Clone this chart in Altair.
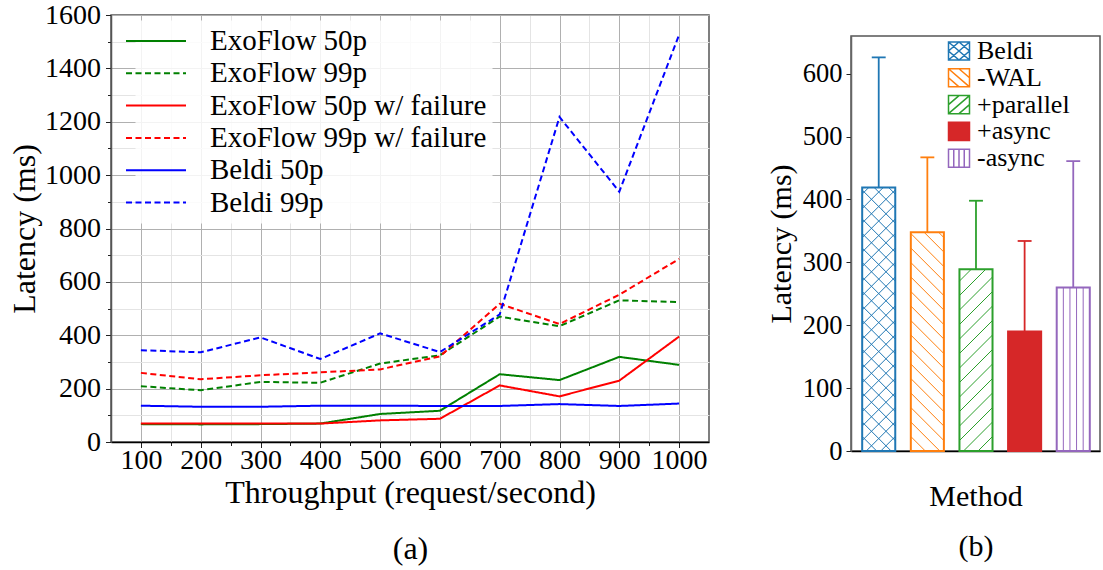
import altair as alt
import pandas as pd

# ---------------- (a) latency vs. throughput ----------------
throughput = [100, 200, 300, 400, 500, 600, 700, 800, 900, 1000]
exoflow_50p = [67, 66, 67, 69, 105, 117, 254, 232, 319, 289]
exoflow_99p = [209, 194, 225, 222, 294, 325, 470, 434, 531, 524]
exoflow_50p_fail = [69, 69, 69, 69, 81, 87, 212, 171, 230, 395]
exoflow_99p_fail = [259, 235, 250, 261, 272, 321, 518, 442, 552, 686]
beldi_50p = [136, 132, 132, 136, 136, 135, 135, 142, 135, 144]
beldi_99p = [344, 336, 392, 311, 407, 337, 478, 1218, 938, 1526]

series_names = ["ExoFlow 50p", "ExoFlow 99p", "ExoFlow 50p w/ failure",
                "ExoFlow 99p w/ failure", "Beldi 50p", "Beldi 99p"]
series_values = [exoflow_50p, exoflow_99p, exoflow_50p_fail,
                 exoflow_99p_fail, beldi_50p, beldi_99p]
series_colors = ["#008000", "#008000", "#ff0000", "#ff0000", "#0000ff", "#0000ff"]
series_dashes = [[1, 0], [6, 3.5], [1, 0], [6, 3.5], [1, 0], [6, 3.5]]

minor_x = [150, 250, 350, 450, 550, 650, 750, 850, 950]
minor_y = [100, 300, 500, 700, 900, 1100, 1300, 1500]
major_y = [0, 200, 400, 600, 800, 1000, 1200, 1400, 1600]

# ---------------- (b) ablation ----------------
methods = ["Beldi", "-WAL", "+parallel", "+async", "-async"]
method_latency = [419, 348, 289, 190, 260]
method_upper = [626, 467, 398, 334, 461]
method_colors = ["#1f77b4", "#ff7f0e", "#2ca02c", "#d62728", "#9467bd"]
method_fills = ["#ffffff", "#ffffff", "#ffffff", "#d62728", "#ffffff"]
method_hatch = ["x", "\\", "/", "", "|"]

FONT = "Times New Roman"

rows = []
for name, vals in zip(series_names, series_values):
    for t, v in zip(throughput, vals):
        rows.append({"throughput": t, "latency": v, "series": name})
lines_df = pd.DataFrame(rows)

x_scale = alt.Scale(domain=[50, 1050], nice=False, zero=False)
y_scale = alt.Scale(domain=[0, 1600], nice=False)

minor_layer = alt.Chart(lines_df).mark_line(opacity=0).encode(
    x=alt.X("throughput:Q", scale=x_scale,
            axis=alt.Axis(orient="bottom", values=minor_x, labels=False, title=None,
                          domain=False, tickSize=3.5, tickColor="#222", tickWidth=1,
                          grid=True, gridColor="#e4e4e4", gridWidth=1)),
    y=alt.Y("latency:Q", scale=y_scale,
            axis=alt.Axis(orient="left", values=minor_y, labels=False, title=None,
                          domain=False, tickSize=3.5, tickColor="#222", tickWidth=1,
                          grid=True, gridColor="#e4e4e4", gridWidth=1)),
    detail="series:N",
)

# legend sample line: 60 px long drawn on a 30 px symbol cell
line_legend = alt.Legend(
    title=None, orient="none", legendX=24, legendY=5, padding=5,
    symbolType="M-2,0H2", symbolSize=900, symbolStrokeWidth=2,
    symbolFillColor="transparent",
    labelFont=FONT, labelFontSize=29, labelOffset=38, rowPadding=1.3,
    fillColor="rgba(255,255,255,0.85)", strokeColor="transparent",
    labelLimit=400,
)

line_layer = alt.Chart(lines_df).mark_line(strokeWidth=2).encode(
    x=alt.X("throughput:Q", scale=x_scale,
            axis=alt.Axis(orient="bottom", values=throughput, format="d",
                          labelOverlap=False,
                          title=["Throughput (request/second)", "(a)"],
                          titleFont=FONT, titleFontSize=32, titleFontWeight="normal",
                          titleLineHeight=56.5, titlePadding=2.5,
                          labelFont=FONT, labelFontSize=28, labelPadding=-1,
                          labelColor="#000", domainColor="#000", domainWidth=1.5,
                          tickSize=5.5, tickColor="#222", tickWidth=1,
                          grid=True, gridColor="#b0b0b0", gridWidth=1)),
    y=alt.Y("latency:Q", scale=y_scale,
            axis=alt.Axis(orient="left", values=major_y, format="d",
                          title="Latency (ms)",
                          titleFont=FONT, titleFontSize=32, titleFontWeight="normal",
                          titlePadding=3, labelFont=FONT, labelFontSize=28,
                          labelPadding=5, labelColor="#000",
                          domainColor="#555", domainWidth=1.5,
                          tickSize=5.5, tickColor="#222", tickWidth=1,
                          grid=True, gridColor="#b0b0b0", gridWidth=1)),
    color=alt.Color("series:N", scale=alt.Scale(domain=series_names, range=series_colors),
                    legend=line_legend),
    strokeDash=alt.StrokeDash("series:N",
                              scale=alt.Scale(domain=series_names, range=series_dashes),
                              legend=line_legend),
)

left = alt.layer(minor_layer, line_layer).resolve_axis(
    x="independent", y="independent"
).properties(width=598, height=427)

# ---- bars with hatching ----
X_DOMAIN = [-0.57, 4.55]
Y_DOMAIN = [0, 660]
R_WIDTH, R_HEIGHT = 249, 415
px_x = R_WIDTH / (X_DOMAIN[1] - X_DOMAIN[0])
px_y = R_HEIGHT / (Y_DOMAIN[1] - Y_DOMAIN[0])
HALF = 0.34
CAP = 0.143
HATCH_STEP = 14.5

bar_df = pd.DataFrame({
    "method": methods,
    "pos": list(range(len(methods))),
    "latency": method_latency,
    "upper": method_upper,
})
bar_df["left"] = bar_df["pos"] - HALF
bar_df["right"] = bar_df["pos"] + HALF
bar_df["cap_left"] = bar_df["pos"] - CAP
bar_df["cap_right"] = bar_df["pos"] + CAP
bar_df["base"] = 0


def hatch_segments(left, value, kind):
    """Hatch lines clipped to one bar, built in pixel space, returned in data units."""
    W = 2 * HALF * px_x
    H = value * px_y
    segs = []
    if "/" in kind or "x" in kind:
        c = -W
        while c < H:
            x0, x1 = max(0.0, -c), min(W, H - c)
            if x1 - x0 > 0.5:
                segs.append((x0, x0 + c, x1, x1 + c))
            c += HATCH_STEP
    if "\\" in kind or "x" in kind:
        c = 0.0
        while c < H + W:
            x0, x1 = max(0.0, c - H), min(W, c)
            if x1 - x0 > 0.5:
                segs.append((x0, c - x0, x1, c - x1))
            c += HATCH_STEP
    if "|" in kind:
        for k in range(1, 5):
            segs.append((W * k / 5, 0.0, W * k / 5, H))
    return [(left + a / px_x, b / px_y, left + c2 / px_x, d / px_y)
            for a, b, c2, d in segs]


hatch_rows = []
for m, p, v, h in zip(methods, range(len(methods)), method_latency, method_hatch):
    for x0, y0, x1, y1 in hatch_segments(p - HALF, v, h):
        hatch_rows.append({"method": m, "x0": x0, "y0": y0, "x1": x1, "y1": y1})
hatch_df = pd.DataFrame(hatch_rows)

bx_scale = alt.Scale(domain=X_DOMAIN, nice=False, zero=False)
by_scale = alt.Scale(domain=Y_DOMAIN, nice=False)
stroke_scale = alt.Scale(domain=methods, range=method_colors)
fill_scale = alt.Scale(domain=methods, range=method_fills)

legend_paths = {
    "x": "M-1,-0.86H1V0.86H-1Z M-1,-0.86L1,0.86 M-1,0.86L1,-0.86 "
         "M-1,0L0,-0.86L1,0L0,0.86Z",
    "\\": "M-1,-0.86H1V0.86H-1Z M-1,-0.86L1,0.86 M0,-0.86L1,0 M-1,0L0,0.86",
    "/": "M-1,-0.86H1V0.86H-1Z M-1,0.86L1,-0.86 M-1,0L0,-0.86 M0,0.86L1,0",
    "": "M-1,-0.86H1V0.86H-1Z",
    "|": "M-1,-0.86H1V0.86H-1Z M-0.5,-0.86V0.86 M0,-0.86V0.86 M0.5,-0.86V0.86",
}
shape_scale = alt.Scale(domain=methods, range=[legend_paths[h] for h in method_hatch])

x_enc_axis = alt.Axis(orient="bottom", labels=False, ticks=False, grid=False,
                      title=["Method", "(b)"], titleFont=FONT, titleFontSize=30,
                      titleFontWeight="normal", titleLineHeight=50.5, titlePadding=30,
                      domainColor="#000", domainWidth=1.5)
y_enc_axis = alt.Axis(orient="left", values=[0, 100, 200, 300, 400, 500, 600],
                      format="d", title="Latency (ms)", titleFont=FONT, titleFontSize=30,
                      titleFontWeight="normal", titlePadding=6,
                      labelFont=FONT, labelFontSize=26.5, labelPadding=4,
                      labelColor="#000", domainColor="#666", domainWidth=1.5,
                      tickSize=5, tickColor="#222", grid=False)

# the legend is placed at the top level, so its position is given from panel (a)'s origin
bar_legend = alt.Legend(
    title=None, orient="none", legendX=835, legendY=23, padding=0,
    symbolSize=441, symbolStrokeWidth=1.5, labelFont=FONT, labelFontSize=26,
    labelOffset=5, rowPadding=0.8, labelLimit=300,
)

base = alt.Chart(bar_df)

err_line = base.mark_rule(strokeWidth=1.8).encode(
    x=alt.X("pos:Q", scale=bx_scale, axis=x_enc_axis),
    y=alt.Y("latency:Q", scale=by_scale, axis=y_enc_axis),
    y2="upper:Q",
    stroke=alt.Stroke("method:N", scale=stroke_scale, legend=bar_legend),
)
err_cap = base.mark_rule(strokeWidth=1.8).encode(
    x=alt.X("cap_left:Q", scale=bx_scale),
    x2="cap_right:Q",
    y=alt.Y("upper:Q", scale=by_scale),
    stroke=alt.Stroke("method:N", scale=stroke_scale, legend=bar_legend),
)
bars = base.mark_rect(strokeWidth=2).encode(
    x=alt.X("left:Q", scale=bx_scale),
    x2="right:Q",
    y=alt.Y("latency:Q", scale=by_scale),
    y2="base:Q",
    fill=alt.Fill("method:N", scale=fill_scale, legend=bar_legend),
    stroke=alt.Stroke("method:N", scale=stroke_scale, legend=bar_legend),
)
hatch = alt.Chart(hatch_df).mark_rule(strokeWidth=1).encode(
    x=alt.X("x0:Q", scale=bx_scale),
    x2="x1:Q",
    y=alt.Y("y0:Q", scale=by_scale),
    y2="y1:Q",
    stroke=alt.Stroke("method:N", scale=stroke_scale, legend=bar_legend),
)
legend_carrier = base.mark_point(opacity=0).encode(
    x=alt.X("pos:Q", scale=bx_scale),
    y=alt.Y("latency:Q", scale=by_scale),
    shape=alt.Shape("method:N", scale=shape_scale, legend=bar_legend),
    stroke=alt.Stroke("method:N", scale=stroke_scale, legend=bar_legend),
    fill=alt.Fill("method:N", scale=fill_scale, legend=bar_legend),
)

right = alt.layer(err_line, err_cap, bars, hatch, legend_carrier).properties(
    width=R_WIDTH, height=R_HEIGHT
)

# empty strip that lowers panel (b) relative to panel (a)
top_gap = alt.Chart(pd.DataFrame({"v": [0]})).mark_point(opacity=0).properties(
    width=1, height=20, view=alt.ViewBackground(strokeOpacity=0)
)

chart = alt.hconcat(
    left, alt.vconcat(top_gap, right, spacing=0), spacing=55
).properties(
    padding={"left": 7, "top": 0, "right": 0, "bottom": 0}
).configure(
    font=FONT
).configure_axis(
    labelFont=FONT, titleFont=FONT
).configure_legend(
    labelFont=FONT
).configure_view(
    stroke="#555", strokeWidth=1.5
)

chart.save("out.html", embed_options={"renderer": "svg", "actions": False})
